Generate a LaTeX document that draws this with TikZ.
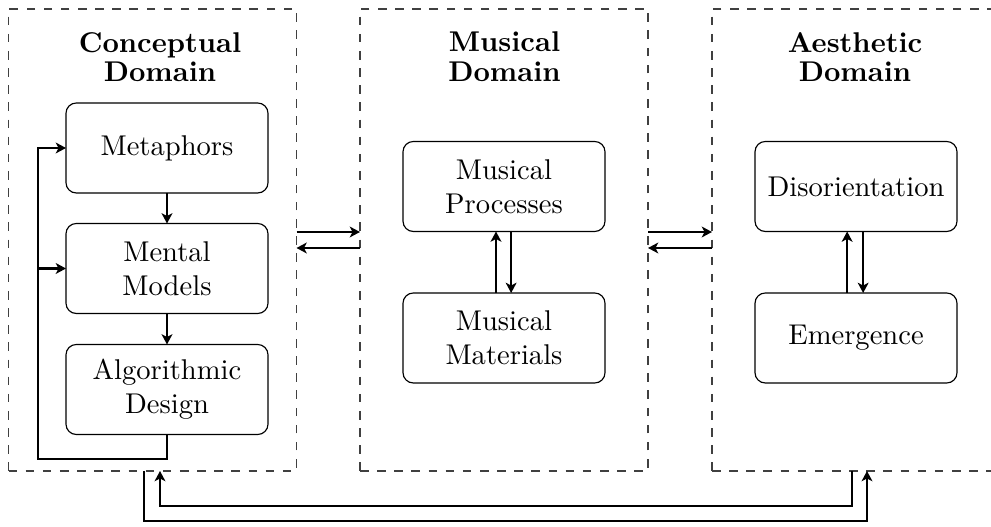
\documentclass[tikz,border=0pt]{standalone}
\usetikzlibrary{arrows.meta}
\begin{document}
\begin{tikzpicture}[x=0.35pt,y=-0.35pt,
  domainbox/.style={draw=black!75, thin, dash pattern=on 3pt off 3pt,
    minimum width=100.8pt, minimum height=161.7pt, inner sep=0pt, outer sep=0pt},
  itembox/.style={draw, thin, rounded corners=3.6pt, align=center,
    minimum width=70.7pt, minimum height=31.5pt, inner sep=0pt, outer sep=0pt},
  domtitle/.style={font=\bfseries, align=center, inner sep=0pt},
  arr/.style={thick, -{Stealth[length=3.6pt,width=3.8pt,inset=1pt]}},
  link/.style={thick}]
\useasboundingbox (0,0) rectangle (991,527);
\clip (0,0) rectangle (991,527);

% the three domains
\node[domainbox] (dom1) at (152.5,240) {};
\node[domainbox] (dom2) at (504,240) {};
\node[domainbox] (dom3) at (856,240) {};

\node[domtitle] (t1) at (160,57) {Conceptual\\[-1.6pt]Domain};
\node[domtitle] (t2) at (504.5,57) {Musical\\[-1.6pt]Domain};
\node[domtitle] (t3) at (855,57) {Aesthetic\\[-1.6pt]Domain};

% conceptual domain
\node[itembox] (meta) at (167,148) {Metaphors};
\node[itembox] (ment) at (167,268.5) {Mental\\Models};
\node[itembox] (algo) at (167,389.5) {Algorithmic\\Design};

% musical domain
\node[itembox] (proc) at (504,186.5) {Musical\\Processes};
\node[itembox] (mat)  at (504,338) {Musical\\Materials};

% aesthetic domain
\node[itembox] (dis) at (856,186.5) {Disorientation};
\node[itembox] (emg) at (856,338) {Emergence};

% flow inside the conceptual domain
\draw[arr] (meta) -- (ment);
\draw[arr] (ment) -- (algo);
\coordinate (fb) at (38,459);
\draw[arr] (algo.south) |- (fb) |- (meta.west);
\draw[arr] (fb |- ment.west) -- (ment.west);

% two-way links inside the domains
\draw[arr] ([xshift=-2.8pt]mat.north) -- ([xshift=-2.8pt]proc.south);
\draw[arr] ([xshift=2.5pt]proc.south) -- ([xshift=2.5pt]mat.north);
\draw[arr] ([xshift=-3.1pt]emg.north) -- ([xshift=-3.1pt]dis.south);
\draw[arr] ([xshift=2.5pt]dis.south) -- ([xshift=2.5pt]emg.north);

% links between neighbouring domains
\coordinate (ya) at (0,232);
\coordinate (yb) at (0,248);
\draw[arr] (dom1.east |- ya) -- (dom2.west |- ya);
\draw[arr] (dom2.west |- yb) -- (dom1.east |- yb);
\draw[arr] (dom2.east |- ya) -- (dom3.west |- ya);
\draw[arr] (dom3.west |- yb) -- (dom2.east |- yb);

% links between the conceptual and aesthetic domains
\coordinate (xa) at (144,0);
\coordinate (xb) at (160,0);
\coordinate (xc) at (852,0);
\coordinate (xd) at (867,0);
\coordinate (lo) at (0,521);
\coordinate (li) at (0,506);
\draw[arr] (dom1.south -| xa) -- (xa |- lo) -- (xd |- lo) -- (dom3.south -| xd);
\draw[arr] (dom3.south -| xc) -- (xc |- li) -- (xb |- li) -- (dom1.south -| xb);
\end{tikzpicture}
\end{document}
